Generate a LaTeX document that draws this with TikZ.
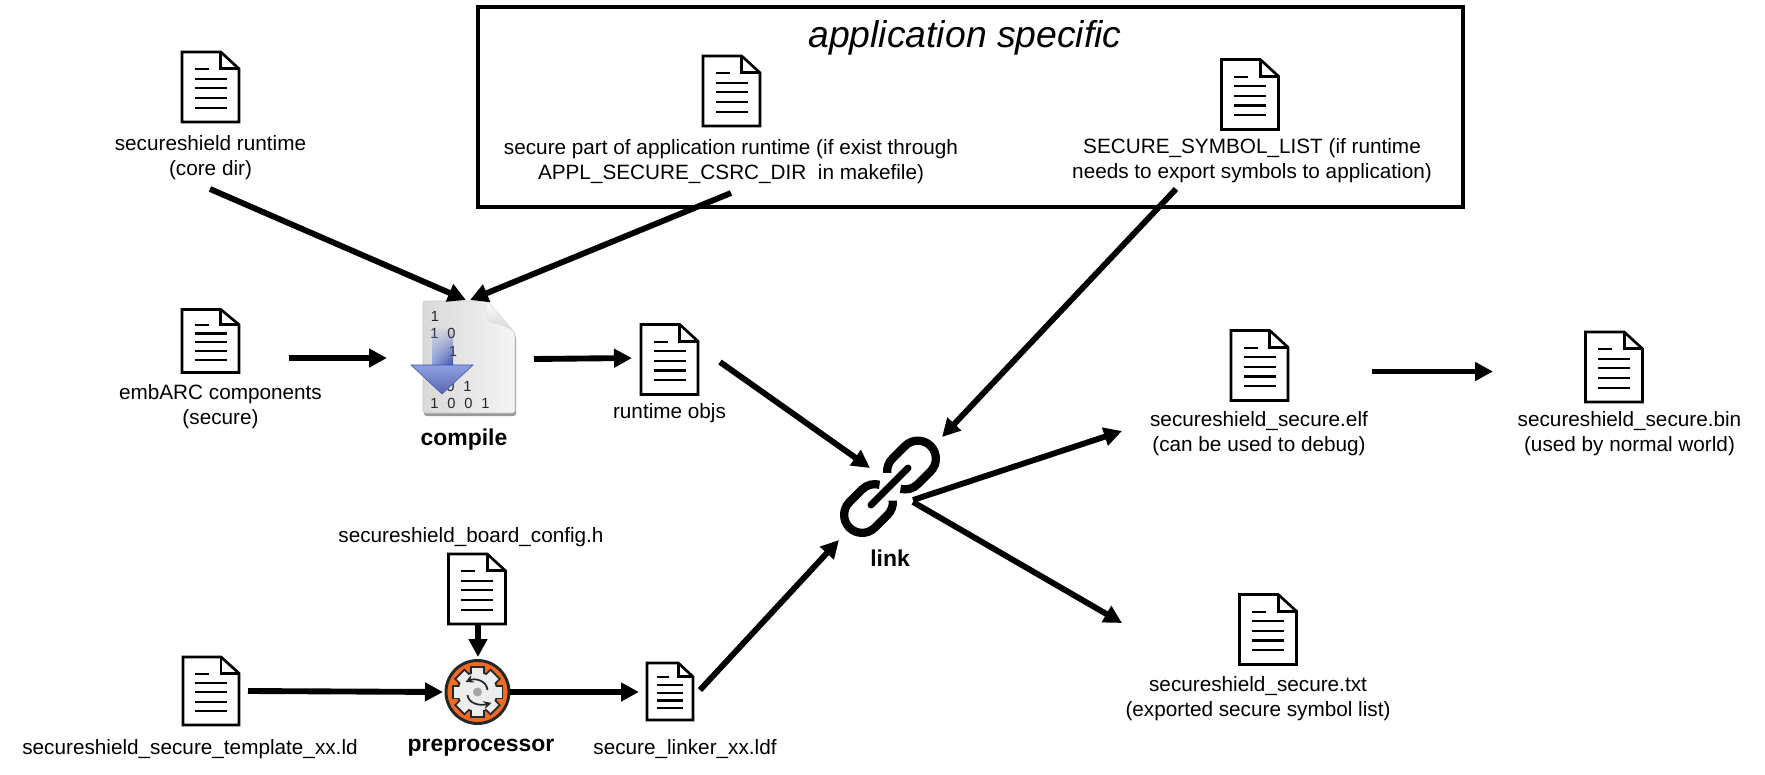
\documentclass[tikz,border=0pt]{standalone}
\usepackage{fontspec}
\setmainfont{Liberation Sans}
\usetikzlibrary{arrows.meta,fadings}

\definecolor{gearorange}{HTML}{F26B21}
\definecolor{gearface}{HTML}{EBEDEE}
\definecolor{geardark}{HTML}{262626}
\definecolor{bluelight}{HTML}{8FA0E2}
\definecolor{bluedark}{HTML}{3B4FA8}

\newcommand{\bitgap}{\hskip 6.6pt}

\tikzset{
  conn/.style={line width=4.4pt,-{Triangle[length=13.5pt,width=13.5pt]}},
  lbl/.style={align=center,inner sep=0pt,font=\fontsize{15.55}{18.7}\selectfont},
  boldlbl/.style={inner sep=0pt,font=\fontsize{17.2}{20}\selectfont\bfseries},
  bits/.style={inner sep=0pt,text=black!85,font=\fontsize{11}{13}\selectfont},
  docicon/.style 2 args={inner sep=0pt,minimum width=(#1+4)*.75pt,minimum height=(#2+4)*.75pt,
    path picture={
      \begin{scope}[shift={(path picture bounding box.center)},x=#1*.75pt,y=#2*.75pt,line width=2pt]
        \draw[line join=miter] (-.5,-.5) -- (-.5,.5) -- (.18,.5) -- (.5,.26) -- (.5,-.5) -- cycle;
        \draw (.18,.5) -- (.18,.26) -- (.5,.26);
        \draw[line width=1.6pt] (-.278,.252) -- (-.032,.252);
        \draw[line width=1.6pt] (-.278,.12) -- (.289,.12);
        \draw[line width=1.6pt] (-.278,-.019) -- (.289,-.019);
        \draw[line width=1.6pt] (-.278,-.157) -- (.289,-.157);
        \draw[line width=1.6pt] (-.278,-.295) -- (.289,-.295);
      \end{scope}}},
  chainhalf/.pic={
    \draw[line width=6.2pt] (-22.8,-11.6) arc[start angle=220,end angle=270,radius=18] -- (9,-18)
      arc[start angle=-90,end angle=90,radius=18] -- (-9,18) arc[start angle=90,end angle=150,radius=18];
  },
  gearflow/.style={draw=geardark,line width=1.3pt,-{Stealth[length=6pt,width=6pt]}}
}

\begin{document}
\begin{tikzpicture}[x=.75pt,y=-.75pt]
\useasboundingbox (0,0) rectangle (1765,774);

% application specific box
\node[draw,line width=2.5pt,minimum width=985*.75pt,minimum height=200*.75pt] (appbox) at (970.5,107) {};
\node[inner sep=0pt,font=\fontsize{28}{32}\selectfont\itshape] (apptitle) at (965,38) {application specific};

% documents
\node[docicon={57}{70}] (runtimedoc) at (210.5,87) {};
\node[docicon={57}{70}] (appdoc) at (731.5,91) {};
\node[docicon={57}{70}] (symboldoc) at (1250,94.5) {};
\node[docicon={57}{63}] (embarcdoc) at (210.5,341) {};
\node[docicon={57}{70}] (objsdoc) at (669.5,359.5) {};
\node[docicon={57}{70}] (elfdoc) at (1259.5,365.5) {};
\node[docicon={57}{70}] (bindoc) at (1614,367) {};
\node[docicon={57}{70}] (txtdoc) at (1268,629.5) {};
\node[docicon={57}{70}] (configdoc) at (477,589) {};
\node[docicon={56}{68}] (templatedoc) at (211,691) {};
\node[docicon={46}{57}] (linkerdoc) at (670,691.5) {};

% labels
\node[lbl] (runtimelabel) at (210.5,158) {secureshield runtime\\(core dir)};
\node[lbl] (applabel) at (731,161.5) {secure part of application runtime (if exist through\\APPL\_SECURE\_CSRC\_DIR~ in makefile)};
\node[lbl] (symbollabel) at (1252,160.5) {SECURE\_SYMBOL\_LIST (if runtime\\needs to export symbols to application)};
\node[lbl] (embarclabel) at (220.5,407) {embARC components\\(secure)};
\node[lbl] (objslabel) at (669.5,413) {runtime objs};
\node[lbl] (elflabel) at (1259,434) {secureshield\_secure.elf\\(can be used to debug)};
\node[lbl] (binlabel) at (1629.5,433.5) {secureshield\_secure.bin\\(used by normal world)};
\node[lbl] (txtlabel) at (1258,699) {secureshield\_secure.txt\\(exported secure symbol list)};
\node[lbl] (configlabel) at (471,537.5) {secureshield\_board\_config.h};
\node[lbl] (templatelabel) at (190,749) {secureshield\_secure\_template\_xx.ld};
\node[lbl] (linkerlabel) at (685,749) {secure\_linker\_xx.ldf};
\node[boldlbl] (compilelabel) at (464,440) {compile};
\node[boldlbl] (linklabel) at (890,558) {link};
\node[boldlbl] (prelabel) at (481,748) {preprocessor};

% compile icon
\node[minimum width=92*.75pt,minimum height=112*.75pt,inner sep=0pt] (compile) at (469,357) {};
\fill[black!40,rounded corners=2pt] (424,304) -- (488,304) -- (516,336) -- (516,416) -- (424,416) -- cycle;
\shade[left color=black!15,right color=black!4,draw=black!22,line width=.6pt,rounded corners=2pt]
  (423,301) -- (487,301) -- (515,333) -- (515,413) -- (423,413) -- cycle;
\shade[top color=white,bottom color=black!18,draw=black!12,line width=.4pt]
  (487,301) .. controls (487,312) and (486,320) .. (490,322) .. controls (497,324) and (507,325) .. (515,333) -- cycle;
\node[bits] (bita) at (435,316) {1};
\node[bits] (bitb) at (443,333) {1\bitgap 0};
\node[bits] (bitc) at (453,351) {1};
\node[bits] (bitd) at (459,386) {0\bitgap 1};
\node[bits] (bite) at (460,403) {1\bitgap 0\bitgap 0\bitgap 1};
\shade[left color=bluelight,middle color=white!70!bluelight,right color=bluedark,path fading=north]
  (432,326) -- (453,326) -- (453,366) -- (432,366) -- cycle;
\shade[top color=bluelight,bottom color=bluedark!85,draw=bluedark,line width=.4pt] (411,365) -- (473,365) -- (442,394) -- cycle;

% chain icon
\node[minimum size=100*.75pt,inner sep=0pt] (link) at (890,487) {};
\pic[rotate=45] at (911.5,465) {chainhalf};
\pic[rotate=225] at (868.5,508.5) {chainhalf};
\draw[line width=5.2pt,line cap=round] (871,505) -- (908,468);

% preprocessor icon
\node[circle,draw=geardark,fill=gearorange,line width=2.2pt,minimum size=63*.75pt,inner sep=0pt] (pre) at (477.5,692) {};
\begin{scope}[shift={(pre.center)}]
  \foreach \a in {0,45,...,315}
    \draw[draw=geardark,line width=2.8pt,rotate=\a] (15,-5.5) rectangle (24,5.5);
  \draw[draw=geardark,line width=2.8pt] (0,0) circle[radius=19];
  \foreach \a in {0,45,...,315}
    \fill[gearface,rotate=\a] (15,-5.5) rectangle (24,5.5);
  \fill[gearface] (0,0) circle[radius=19];
  \fill[black!35] (0,0) circle[radius=4.5];
  \draw[gearflow] (10,-2) .. controls (9,-12) and (-3,-14) .. (-12,-10);
  \draw[gearflow] (-10,3) .. controls (-9,12) and (3,14) .. (14,11);
\end{scope}

% connectors
\draw[conn] ([shift={(-.5,31)}]runtimelabel.center) -- ([shift={(-3,-57)}]compile.center);
\draw[conn] ([shift={(0,31.5)}]applabel.center) -- ([shift={(1,-57)}]compile.center);
\draw[conn] ([shift={(78.5,17)}]embarcdoc.center) -- ([shift={(-82,1)}]compile.center);
\draw[conn] ([shift={(65,2)}]compile.center) -- ([shift={(-37.5,-1.5)}]objsdoc.center);
\draw[conn] ([shift={(50.5,2.5)}]objsdoc.center) -- ([shift={(-20,-19)}]link.center);
\draw[conn] ([shift={(-76,28.5)}]symbollabel.center) -- ([shift={(52,-50)}]link.center);
\draw[conn] ([shift={(30,-1.5)}]linkerdoc.center) -- ([shift={(-51,53)}]link.center);
\draw[conn] ([shift={(23,13)}]link.center) -- ([shift={(-137,-3)}]elflabel.center);
\draw[conn] ([shift={(23,15)}]link.center) -- ([shift={(-146,-6.5)}]txtdoc.center);
\draw[conn] ([shift={(112.5,6)}]elfdoc.center) -- ([shift={(-121,4.5)}]bindoc.center);
\draw[conn] ([shift={(37,0)}]templatedoc.center) -- ([shift={(-34.5,0)}]pre.center);
\draw[conn] ([shift={(1,36)}]configdoc.center) -- ([shift={(.5,-35)}]pre.center);
\draw[conn] ([shift={(32.5,0)}]pre.center) -- ([shift={(-31,.5)}]linkerdoc.center);
\end{tikzpicture}
\end{document}
